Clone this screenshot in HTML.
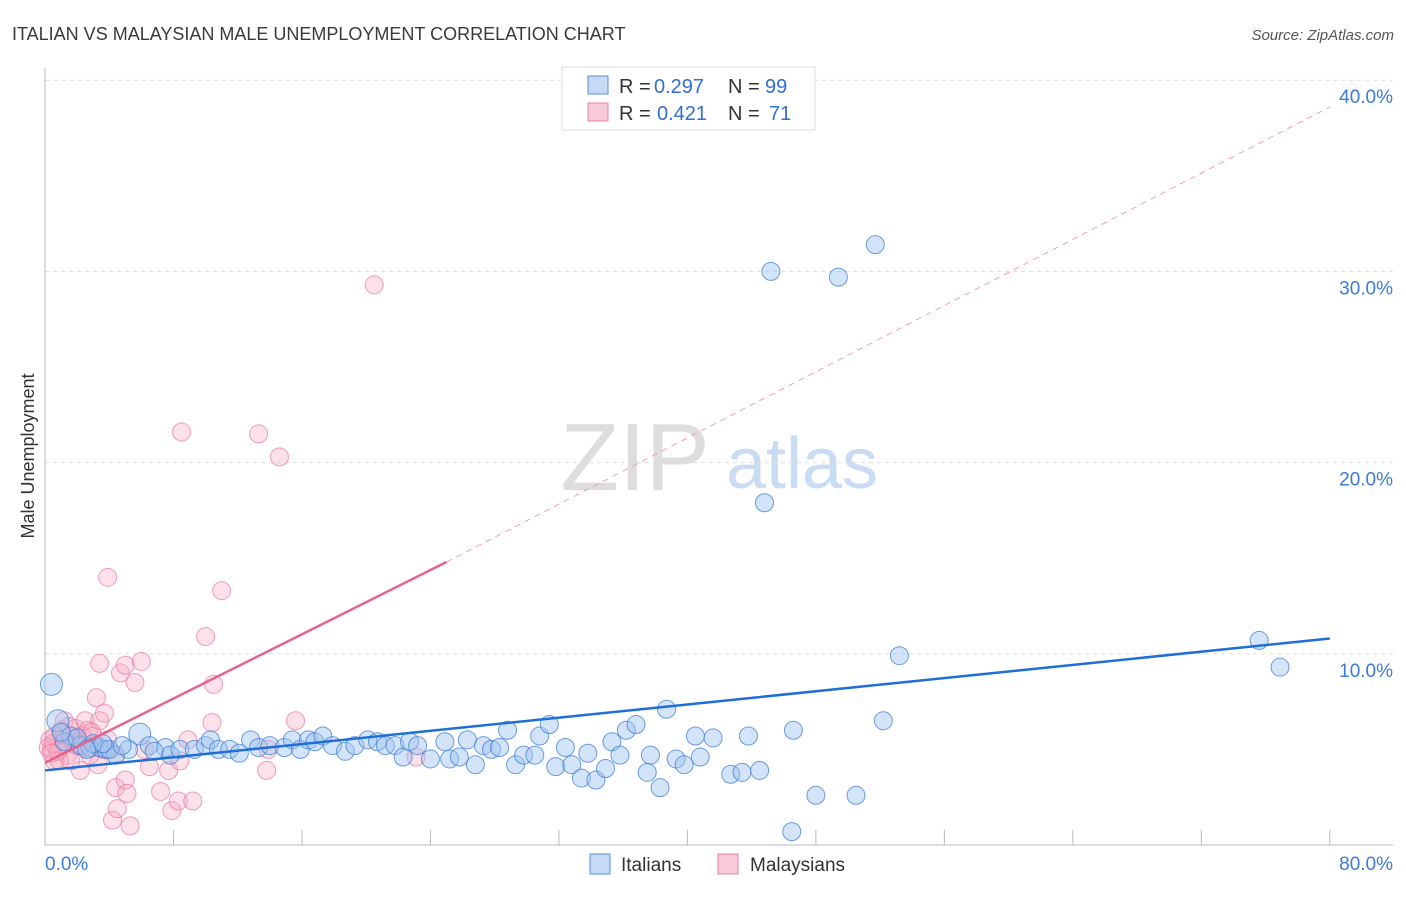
<!DOCTYPE html>
<html><head><meta charset="utf-8"><style>
body{margin:0;background:#fff;font-family:"Liberation Sans",sans-serif;}
svg text{font-family:"Liberation Sans",sans-serif;}
</style></head><body>
<svg id="c" width="1406" height="892" xmlns="http://www.w3.org/2000/svg">
<text x="12" y="40" font-size="18" fill="#3a3a3a">ITALIAN VS MALAYSIAN MALE UNEMPLOYMENT CORRELATION CHART</text>
<text x="1394" y="40" font-size="15" fill="#555" font-style="italic" text-anchor="end">Source: ZipAtlas.com</text>
<text x="0" y="0" transform="translate(34,456) rotate(-90)" font-size="18" fill="#333" text-anchor="middle">Male Unemployment</text>
<g><text x="635" y="490" font-size="96" fill="#ddd" font-family="Liberation Serif" text-anchor="middle">ZIP</text><text x="802" y="488" font-size="72" fill="#c9dcf3" text-anchor="middle">atlas</text></g>
<g id="grid"></g><g id="axes"></g><g id="pts"></g><g id="lines"></g>
<g>
<rect x="562" y="67" width="253" height="63" fill="#fff" stroke="#ddd"/>
<rect x="588" y="76" width="20" height="18" fill="#c5daf5" stroke="#5b8fd8"/>
<rect x="588" y="103" width="20" height="18" fill="#f9cbd8" stroke="#e8829f"/>
<text x="619" y="93" font-size="20" fill="#333">R =</text>
<text x="654" y="93" font-size="20" fill="#2f6fd6">0.297</text>
<text x="728" y="93" font-size="20" fill="#333">N =</text>
<text x="765" y="93" font-size="20" fill="#2f6fd6">99</text>
<text x="619" y="120" font-size="20" fill="#333">R =</text>
<text x="657" y="120" font-size="20" fill="#2f6fd6">0.421</text>
<text x="728" y="120" font-size="20" fill="#333">N =</text>
<text x="769" y="120" font-size="20" fill="#2f6fd6">71</text>
</g>
<g>
<rect x="590" y="854" width="20" height="20" fill="#c5daf5" stroke="#5b8fd8"/>
<text x="621" y="871" font-size="19" fill="#333">Italians</text>
<rect x="718" y="854" width="20" height="20" fill="#f9cbd8" stroke="#e8829f"/>
<text x="750" y="871" font-size="19" fill="#333">Malaysians</text>
</g>
</svg>
<script>
const italX=[0.4,0.8,1.6,2.2,2.8,3.4,3.8,4.4,5.9,5.2,6.5,7.5,7.8,8.4,9.3,10.0,10.3,10.8,11.5,12.1,12.8,13.3,14.0,14.9,15.4,15.9,16.4,16.8,17.3,17.9,18.7,19.3,20.1,20.7,21.2,21.8,22.3,22.7,23.2,24.0,24.9,25.2,25.8,26.3,26.8,27.3,27.8,28.3,28.8,29.3,29.8,30.5,30.8,31.4,31.8,32.4,32.8,33.4,33.8,34.3,34.9,35.3,35.8,36.2,36.8,37.5,37.7,38.3,38.7,39.3,39.8,40.5,40.8,41.6,42.7,43.4,43.8,44.5,46.6,48.0,50.5,46.5,52.2,53.2,44.8,45.2,49.4,51.7,75.6,76.9,1.2,2.0,3.0,4.0,4.8,1.0,2.6,3.6,6.8];
const italY=[8.4,6.5,5.7,5.2,5.1,5.1,5.0,4.7,5.8,5.0,5.2,5.1,4.7,5.0,5.0,5.2,5.5,5.0,5.0,4.8,5.5,5.1,5.2,5.1,5.5,5.0,5.5,5.4,5.7,5.2,4.9,5.2,5.5,5.4,5.2,5.2,4.6,5.4,5.2,4.5,5.4,4.5,4.6,5.5,4.2,5.2,5.0,5.1,6.0,4.2,4.7,4.7,5.7,6.3,4.1,5.1,4.2,3.5,4.8,3.4,4.0,5.4,4.7,6.0,6.3,3.8,4.7,3.0,7.1,4.5,4.2,5.7,4.6,5.6,3.7,3.8,5.7,3.9,6.0,2.6,2.6,0.7,6.5,9.9,17.9,30.0,29.7,31.4,10.7,9.3,5.4,5.6,5.3,5.0,5.2,5.9,5.0,5.3,4.9];
const malX=[0.3,0.4,0.6,0.9,1.0,1.2,1.4,1.7,1.9,2.2,2.3,2.5,2.7,3.0,3.1,3.2,3.4,3.4,3.7,3.9,3.3,3.9,4.2,4.4,4.5,4.7,5.0,5.0,5.1,5.3,5.6,6.0,6.2,6.5,7.2,7.7,7.9,8.3,8.4,8.5,8.9,9.2,10.0,10.4,10.5,11.0,13.3,13.8,13.9,14.6,15.6,20.5,23.1,0.6,0.9,1.6,2.0,2.8,4.4,0.2,0.5,1.3,1.8,2.4,0.8,1.1,2.1,3.6,0.4,1.5,2.9];
const malY=[5.5,5.0,5.7,5.2,6.0,6.5,4.7,5.5,6.1,3.9,5.7,6.5,6.0,5.7,5.2,7.7,6.5,9.5,6.9,5.5,4.2,14.0,1.3,3.0,1.9,9.0,9.4,3.4,2.7,1.0,8.5,9.6,5.0,4.1,2.8,3.9,1.8,2.3,4.4,21.6,5.5,2.3,10.9,6.4,8.4,13.3,21.5,3.9,5.0,20.3,6.5,29.3,4.6,4.4,4.4,4.4,5.2,4.7,4.7,5.1,5.3,5.4,5.6,5.1,4.9,5.8,5.3,5.0,4.8,6.2,5.9];
const yTicks=[10,20,30,40];
const italLine=[[0,3.9],[80,10.8]];
const malLine=[[0,4.3],[25,14.8],[80,38.6]];
const X=v=>45+v*16.06, Y=v=>845-v*19.12;
const NS="http://www.w3.org/2000/svg";
function mk(t,a,p){const e=document.createElementNS(NS,t);for(const k in a)e.setAttribute(k,a[k]);p.appendChild(e);return e;}
const grid=document.getElementById('grid'),axes=document.getElementById('axes'),pts=document.getElementById('pts'),lines=document.getElementById('lines');
yTicks.forEach(t=>{
 const l=mk('line',{x1:45,x2:1393,y1:Y(t),y2:Y(t),stroke:'#ddd','stroke-dasharray':'4,4'},grid);
 
 
 const tx=mk('text',{x:1393,y:Y(t)+23,'font-size':19,fill:'#3b7bd9','text-anchor':'end'},grid);tx.textContent=t.toFixed(1)+'%';
 
 
});
mk('line',{x1:45,x2:45,y1:68,y2:845,stroke:'#bbb'},axes);
mk('line',{x1:45,x2:1393,y1:845,y2:845,stroke:'#bbb'},axes);
for(let i=1;i<=10;i++){mk('line',{x1:X(i*8),x2:X(i*8),y1:830,y2:845,stroke:'#bbb'},axes);}
const x0=mk('text',{x:45,y:870,'font-size':19,fill:'#3b7bd9'},axes);x0.textContent='0.0%';


const x1=mk('text',{x:1393,y:870,'font-size':19,fill:'#3b7bd9','text-anchor':'end'},axes);x1.textContent='80.0%';


malX.forEach((v,i)=>{const c=mk('circle',{cx:X(v),cy:Y(malY[i]),r:9,fill:'rgba(246,170,195,0.35)',stroke:'rgba(232,120,155,0.7)'},pts);
 
 });
italX.forEach((v,i)=>{const c=mk('circle',{cx:X(v),cy:Y(italY[i]),r:i<2||i==8?11:9,fill:'rgba(160,196,240,0.45)',stroke:'rgba(60,125,215,0.75)'},pts);
 
 });
const il=mk('line',{x1:X(italLine[0][0]),y1:Y(italLine[0][1]),x2:X(italLine[1][0]),y2:Y(italLine[1][1]),stroke:'#1f6fd6','stroke-width':2.5},lines);


const ml=mk('line',{x1:X(malLine[0][0]),y1:Y(malLine[0][1]),x2:X(malLine[1][0]),y2:Y(malLine[1][1]),stroke:'#e8628c','stroke-width':2.5},lines);


const md=mk('line',{x1:X(malLine[1][0]),y1:Y(malLine[1][1]),x2:X(malLine[2][0]),y2:Y(malLine[2][1]),stroke:'#eea0b8','stroke-width':1,'stroke-dasharray':'6,5'},lines);


</script>
</body></html>
